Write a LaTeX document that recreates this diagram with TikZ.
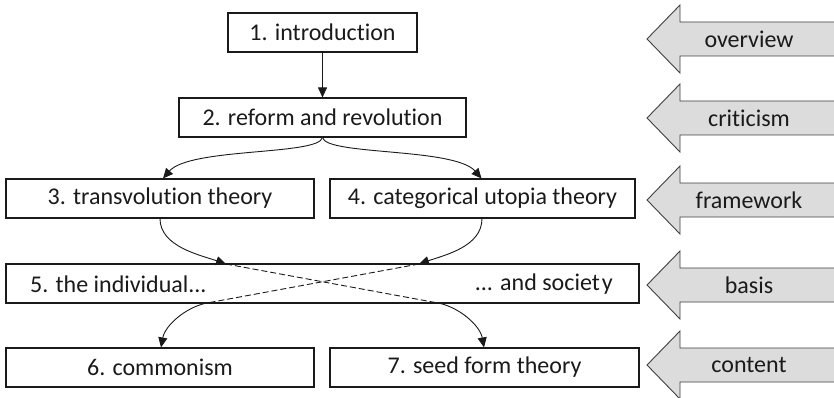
\documentclass[tikz,border=0pt]{standalone}
\usepackage{fontspec}
\setmainfont{Carlito}[Ligatures=NoCommon]
\usetikzlibrary{arrows.meta}
\definecolor{sidefill}{HTML}{DCDCDC}
\definecolor{sideline}{HTML}{404040}
\definecolor{ink}{HTML}{1A1A1A}
\begin{document}
\begin{tikzpicture}[x=1pt,y=-1pt,
  box/.style={draw=ink,line width=1.1pt,rectangle,inner sep=0pt,minimum height=39pt,text=ink,font=\fontsize{24}{28}\selectfont},
  txt/.style={inner sep=0pt,text=ink,font=\fontsize{24}{28}\selectfont},
  conn/.style={draw=ink,line width=0.9pt,-{Triangle[length=10pt,width=9pt]}},
  dashline/.style={draw=ink,line width=0.9pt,dash pattern=on 6pt off 3pt},
  side/.style={draw=sideline,fill=sidefill,line width=0.9pt,line join=miter},
  lbl/.style={inner sep=0pt,text=ink,font=\fontsize{24}{28}\selectfont}]
\useasboundingbox (0,0) rectangle (834,398);
% boxes
\node[box,minimum width=189pt] (b1) at (322.5,32.5) {1. introduction};
\node[box,minimum width=287pt] (b2) at (322.5,117.5) {2. reform and revolution};
\node[box,minimum width=308pt] (b3) at (160,198.5) {3. transvolution theory};
\node[box,minimum width=305pt] (b4) at (482.5,198.5) {4. categorical utopia theory};
\node[box,minimum width=633pt] (b5) at (322.5,283.5) {};
\node[txt,anchor=west] (b5l) at (30,284) {5. the individual...};
\node[txt,anchor=east] (b5r) at (613,284) {... and societ\kern2pt y};
\node[box,minimum width=308pt] (b6) at (160,367.5) {6. commonism};
\node[box,minimum width=309pt] (b7) at (484.5,367.5) {7. seed form theory};
% coordinates on box 5
\coordinate (x1) at (226,264);
\coordinate (x2) at (419,264);
\coordinate (y1) at (207,303);
\coordinate (y2) at (438,303);
% connectors
\draw[conn] (b1) -- (b2);
\draw[conn] (b2.south) .. controls +(-4,18) and +(27,-31) .. ([xshift=3pt]b3.north);
\draw[conn] (b2.south) .. controls +(4,18) and +(-27,-31) .. ([xshift=-1pt]b4.north);
\draw[conn] (b3.south) .. controls +(0,28) and +(-26,-9) .. (x1);
\draw[conn] ([xshift=-0.5pt]b4.south) .. controls +(0,28) and +(26,-9) .. (x2);
\draw[dashline] (x1) -- (y2);
\draw[dashline] (x2) -- (y1);
\draw[conn] (y1) .. controls +(-21,4) and +(4,-22) .. ([xshift=1pt]b6.north);
\draw[conn] (y2) .. controls +(21,4) and +(-4,-22) .. ([xshift=-0.5pt]b7.north);
% side arrows
\foreach \c/\t/\n in {39/overview/a1,118/criticism/a2,200/framework/a3,285/basis/a4,365/content/a5}{
  \draw[side] (647,\c) -- (680,\c-34) -- (680,\c-17) -- (850,\c-17) -- (850,\c+17) -- (680,\c+17) -- (680,\c+34) -- cycle;
  \node[lbl] (\n) at (749,\c) {\t};
}
\end{tikzpicture}
\end{document}
